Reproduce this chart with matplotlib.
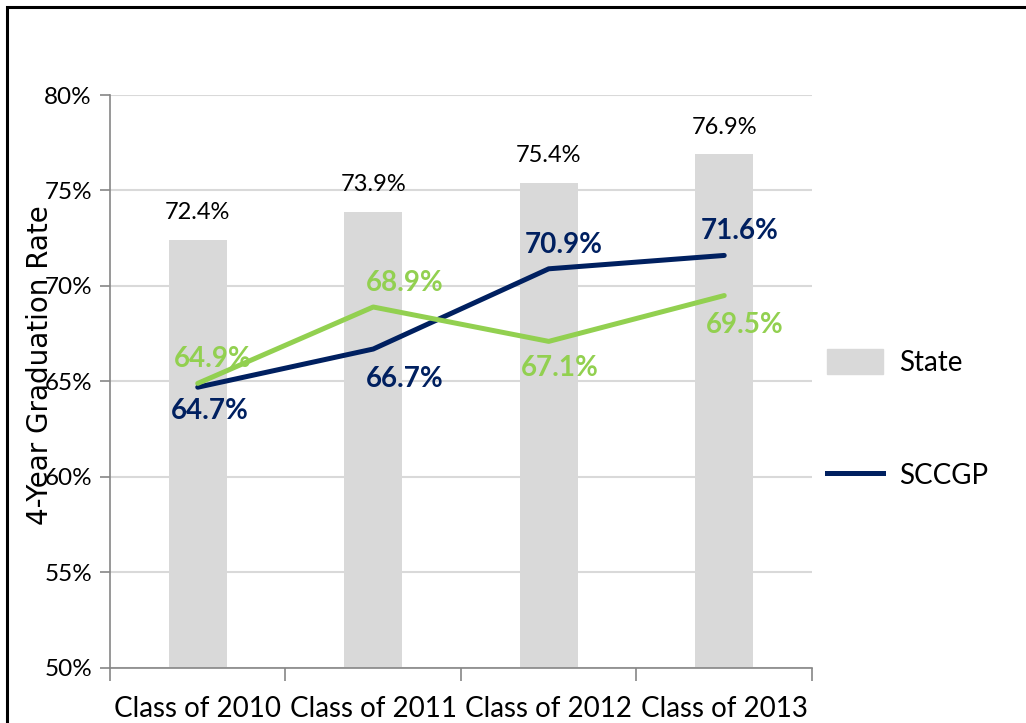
import matplotlib.pyplot as plt
from matplotlib.patches import Rectangle, Patch
from matplotlib.lines import Line2D

classes = ['Class of 2010', 'Class of 2011', 'Class of 2012', 'Class of 2013']
state = [72.4, 73.9, 75.4, 76.9]
sccgp = [64.7, 66.7, 70.9, 71.6]
other = [64.9, 68.9, 67.1, 69.5]
yticks = [50, 55, 60, 65, 70, 75, 80]

navy = '#002060'
green = '#92D050'
grey = '#D9D9D9'
cat_font = ['Liberation Sans Narrow', 'Lato', 'DejaVu Sans']
num_font = ['Lato', 'DejaVu Sans']

fig = plt.figure(figsize=(10.26, 7.23), dpi=100)
ax = fig.add_axes([0.1072, 0.0761, 0.6842, 0.7925])

x = list(range(len(classes)))
ax.bar(x, state, width=0.33, color=grey, zorder=2)
ax.plot(x, sccgp, color=navy, lw=3.6, zorder=3, solid_capstyle='round')
ax.plot(x, other, color=green, lw=3.6, zorder=3, solid_capstyle='round')

for i, v in enumerate(state):
    ax.annotate(f'{v}%', (i, v), xytext=(0, 12), textcoords='offset points',
                ha='center', va='bottom', fontsize=17, family=num_font)

# label placement: (dx, dy) in points
navy_off = [(9, -8), (23, -12), (11, 8), (11, 8)]
green_off = [(11, 8), (23, 8), (8, -10), (15, -12)]
for i, v in enumerate(sccgp):
    dx, dy = navy_off[i]
    ax.annotate(f'{v}%', (i, v), xytext=(dx, dy), textcoords='offset points',
                ha='center', va='bottom' if dy > 0 else 'top', fontsize=20,
                fontweight='bold', color=navy, family=num_font, zorder=4)
for i, v in enumerate(other):
    dx, dy = green_off[i]
    ax.annotate(f'{v}%', (i, v), xytext=(dx, dy), textcoords='offset points',
                ha='center', va='bottom' if dy > 0 else 'top', fontsize=20,
                fontweight='bold', color=green, family=num_font, zorder=4)

ax.set_xlim(-0.5, 3.5)
ax.set_ylim(50, 80)
ax.set_yticks(yticks)
ax.set_yticklabels([f'{t}%' for t in yticks], fontsize=17.5, family=num_font)
ax.yaxis.grid(True, color=grey, lw=1.5, zorder=0)
ax.set_axisbelow(True)
ax.set_xticks([-0.5, 0.5, 1.5, 2.5, 3.5])
ax.set_xticklabels([])
ax.set_xticks(x, minor=True)
ax.set_xticklabels(classes, minor=True, fontsize=20, family=cat_font)
ax.tick_params(axis='x', which='minor', length=0, pad=20)
ax.tick_params(axis='x', which='major', length=9, color='#868686', width=1.2)
ax.tick_params(axis='y', length=7, color='#868686', width=1.2, pad=6)
for s in ['top', 'right']:
    ax.spines[s].set_visible(False)
for s in ['left', 'bottom']:
    ax.spines[s].set_color('#868686')
    ax.spines[s].set_linewidth(1.2)

fig.text(0.039, 0.495, '4-Year Graduation Rate', rotation=90, ha='center',
         va='center', fontsize=20)

handles = [Patch(color=grey), Line2D([], [], color=navy, lw=3.6)]
fig.legend(handles, ['State', 'SCCGP'], loc='center left',
           bbox_to_anchor=(0.782, 0.42), frameon=False,
           prop={'family': num_font, 'size': 20}, labelspacing=3.1,
           handlelength=2.0, handleheight=1.0, handletextpad=0.6)

fig.patches.append(Rectangle((7 / 1026, -0.1), 1.2, 1.1 - 7 / 723,
                             transform=fig.transFigure, fill=False,
                             ec='black', lw=2.2))

fig.savefig('out.png', dpi=100)
